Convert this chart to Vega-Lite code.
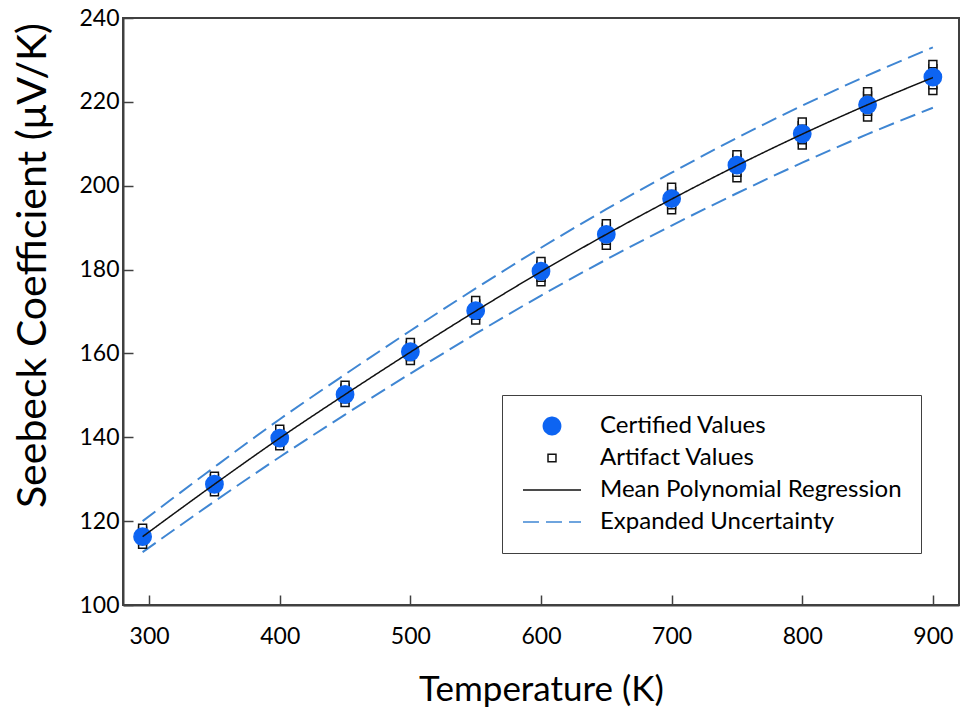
{
  "$schema": "https://vega.github.io/schema/vega-lite/v6.json",
  "width": 836,
  "height": 587,
  "autosize": {"type": "none"},
  "padding": {"left": 123, "top": 18, "right": 2, "bottom": 112},
  "background": "white",
  "config": {
    "font": "Lato",
    "view": {"stroke": "#404040", "strokeWidth": 2},
    "axis": {
      "grid": false,
      "domainColor": "#404040",
      "domainWidth": 2,
      "tickColor": "#404040",
      "tickWidth": 1.5,
      "tickSize": -10,
      "labelFontSize": 23,
      "labelColor": "black",
      "labelFont": "Lato",
      "titleFont": "Lato",
      "titleFontWeight": "normal",
      "titleColor": "black"
    },
    "legend": {
      "strokeColor": "#404040",
      "fillColor": "white",
      "padding": 19,
      "labelFont": "Lato",
      "labelFontSize": 24,
      "labelColor": "black",
      "labelLimit": 500,
      "symbolSize": 300,
      "symbolStrokeWidth": 1.5,
      "rowPadding": 8,
      "labelOffset": 36,
      "symbolOffset": 19
    }
  },
  "datasets": {
    "certified": [
      {"T": 295, "S": 116.3}, {"T": 350, "S": 128.8}, {"T": 400, "S": 139.8},
      {"T": 450, "S": 150.2}, {"T": 500, "S": 160.4}, {"T": 550, "S": 170.2},
      {"T": 600, "S": 179.6}, {"T": 650, "S": 188.4}, {"T": 700, "S": 196.9},
      {"T": 750, "S": 204.9}, {"T": 800, "S": 212.4}, {"T": 850, "S": 219.3},
      {"T": 900, "S": 225.9}
    ],
    "artifacts": [
      {"T": 295, "S": 114.4}, {"T": 295, "S": 115.3}, {"T": 295, "S": 116.1}, {"T": 295, "S": 116.9}, {"T": 295, "S": 117.7}, {"T": 295, "S": 118.4},
      {"T": 350, "S": 126.9}, {"T": 350, "S": 127.8}, {"T": 350, "S": 128.6}, {"T": 350, "S": 129.4}, {"T": 350, "S": 130.2}, {"T": 350, "S": 130.8},
      {"T": 400, "S": 137.9}, {"T": 400, "S": 138.8}, {"T": 400, "S": 139.6}, {"T": 400, "S": 140.4}, {"T": 400, "S": 141.3}, {"T": 400, "S": 142.0},
      {"T": 450, "S": 148.2}, {"T": 450, "S": 149.1}, {"T": 450, "S": 150.0}, {"T": 450, "S": 150.9}, {"T": 450, "S": 151.8}, {"T": 450, "S": 152.5},
      {"T": 500, "S": 158.2}, {"T": 500, "S": 159.2}, {"T": 500, "S": 160.1}, {"T": 500, "S": 161.0}, {"T": 500, "S": 161.9}, {"T": 500, "S": 162.7},
      {"T": 550, "S": 167.9}, {"T": 550, "S": 169.0}, {"T": 550, "S": 169.9}, {"T": 550, "S": 170.9}, {"T": 550, "S": 171.9}, {"T": 550, "S": 172.7},
      {"T": 600, "S": 177.0}, {"T": 600, "S": 178.1}, {"T": 600, "S": 179.1}, {"T": 600, "S": 180.1}, {"T": 600, "S": 181.1}, {"T": 600, "S": 182.0},
      {"T": 650, "S": 185.7}, {"T": 650, "S": 186.9}, {"T": 650, "S": 188.0}, {"T": 650, "S": 189.0}, {"T": 650, "S": 190.1}, {"T": 650, "S": 191.0},
      {"T": 700, "S": 194.2}, {"T": 700, "S": 195.4}, {"T": 700, "S": 196.5}, {"T": 700, "S": 197.6}, {"T": 700, "S": 198.7}, {"T": 700, "S": 199.7},
      {"T": 750, "S": 201.8}, {"T": 750, "S": 203.1}, {"T": 750, "S": 204.4}, {"T": 750, "S": 205.5}, {"T": 750, "S": 206.6}, {"T": 750, "S": 207.5},
      {"T": 800, "S": 209.6}, {"T": 800, "S": 210.9}, {"T": 800, "S": 212.1}, {"T": 800, "S": 213.3}, {"T": 800, "S": 214.4}, {"T": 800, "S": 215.3},
      {"T": 850, "S": 216.3}, {"T": 850, "S": 217.7}, {"T": 850, "S": 219.0}, {"T": 850, "S": 220.3}, {"T": 850, "S": 221.5}, {"T": 850, "S": 222.5},
      {"T": 900, "S": 222.6}, {"T": 900, "S": 224.0}, {"T": 900, "S": 225.5}, {"T": 900, "S": 226.8}, {"T": 900, "S": 228.0}, {"T": 900, "S": 229.0}
    ],
    "curve": [
      {"T": 295, "S": 116.3}, {"T": 350, "S": 128.8}, {"T": 400, "S": 139.8},
      {"T": 450, "S": 150.2}, {"T": 500, "S": 160.3}, {"T": 550, "S": 170.1},
      {"T": 600, "S": 179.5}, {"T": 650, "S": 188.4}, {"T": 700, "S": 196.8},
      {"T": 750, "S": 204.8}, {"T": 800, "S": 212.3}, {"T": 850, "S": 219.3},
      {"T": 900, "S": 225.8}
    ],
    "band": [
      {"T": 295, "S": 120.0, "bound": "upper"}, {"T": 350, "S": 132.9, "bound": "upper"}, {"T": 400, "S": 144.3, "bound": "upper"},
      {"T": 450, "S": 155.0, "bound": "upper"}, {"T": 500, "S": 165.4, "bound": "upper"}, {"T": 550, "S": 175.5, "bound": "upper"},
      {"T": 600, "S": 185.2, "bound": "upper"}, {"T": 650, "S": 194.4, "bound": "upper"}, {"T": 700, "S": 203.1, "bound": "upper"},
      {"T": 750, "S": 211.4, "bound": "upper"}, {"T": 800, "S": 219.1, "bound": "upper"}, {"T": 850, "S": 226.3, "bound": "upper"},
      {"T": 900, "S": 233.0, "bound": "upper"},
      {"T": 295, "S": 112.6, "bound": "lower"}, {"T": 350, "S": 124.7, "bound": "lower"}, {"T": 400, "S": 135.3, "bound": "lower"},
      {"T": 450, "S": 145.4, "bound": "lower"}, {"T": 500, "S": 155.2, "bound": "lower"}, {"T": 550, "S": 164.7, "bound": "lower"},
      {"T": 600, "S": 173.8, "bound": "lower"}, {"T": 650, "S": 182.4, "bound": "lower"}, {"T": 700, "S": 190.5, "bound": "lower"},
      {"T": 750, "S": 198.2, "bound": "lower"}, {"T": 800, "S": 205.5, "bound": "lower"}, {"T": 850, "S": 212.3, "bound": "lower"},
      {"T": 900, "S": 218.6, "bound": "lower"}
    ]
  },
  "encoding": {
    "x": {
      "field": "T", "type": "quantitative",
      "scale": {"domain": [280, 920], "nice": false, "zero": false},
      "axis": {"values": [300, 400, 500, 600, 700, 800, 900], "title": "Temperature (K)", "titleFontSize": 35, "labelPadding": 30, "titleX": 418, "titleY": 84, "titleBaseline": "middle", "titleAnchor": null}
    },
    "y": {
      "field": "S", "type": "quantitative",
      "scale": {"domain": [100, 240], "nice": false, "zero": false},
      "axis": {"values": [100, 120, 140, 160, 180, 200, 220, 240], "title": "Seebeck Coefficient (μV/K)", "titleFontSize": 41, "labelPadding": 14, "titleX": -90, "titleY": 247, "titleBaseline": "middle", "titleAlign": "center", "titleAngle": -90}
    }
  },
  "layer": [
    {
      "data": {"name": "band"},
      "transform": [{"calculate": "'Expanded Uncertainty'", "as": "series"}],
      "mark": {"type": "line", "strokeWidth": 2, "interpolate": "monotone"},
      "encoding": {
        "detail": {"field": "bound"},
        "stroke": {
          "field": "series", "type": "nominal",
          "scale": {"domain": ["Certified Values", "Artifact Values", "Mean Polynomial Regression", "Expanded Uncertainty"], "range": ["#0d64f2", "#111111", "#111111", "#3f86d3"]},
          "legend": {"title": null, "orient": "none", "legendX": 379, "legendY": 377}
        },
        "strokeDash": {
          "field": "series", "type": "nominal",
          "scale": {"domain": ["Certified Values", "Artifact Values", "Mean Polynomial Regression", "Expanded Uncertainty"], "range": [[1, 0], [1, 0], [1, 0], [16, 7]]},
          "legend": {"title": null, "orient": "none", "legendX": 379, "legendY": 377}
        }
      }
    },
    {
      "data": {"name": "artifacts"},
      "transform": [{"calculate": "'Artifact Values'", "as": "series"}],
      "mark": {"type": "point", "size": 300, "strokeWidth": 1.5, "opacity": 1},
      "encoding": {
        "shape": {
          "field": "series", "type": "nominal",
          "scale": {"domain": ["Certified Values", "Artifact Values", "Mean Polynomial Regression", "Expanded Uncertainty"], "range": ["circle", "M-0.46,-0.42H0.46V0.42H-0.46Z", "M-3.35,0H3.35", "M-3.35,0H3.35"]},
          "legend": {"title": null, "orient": "none", "legendX": 379, "legendY": 377}
        },
        "fill": {
          "field": "series", "type": "nominal",
          "scale": {"domain": ["Certified Values", "Artifact Values", "Mean Polynomial Regression", "Expanded Uncertainty"], "range": ["#0d64f2", "white", "transparent", "transparent"]},
          "legend": {"title": null, "orient": "none", "legendX": 379, "legendY": 377}
        },
        "stroke": {
          "field": "series", "type": "nominal",
          "scale": {"domain": ["Certified Values", "Artifact Values", "Mean Polynomial Regression", "Expanded Uncertainty"], "range": ["#0d64f2", "#111111", "#111111", "#3f86d3"]},
          "legend": {"title": null, "orient": "none", "legendX": 379, "legendY": 377}
        }
      }
    },
    {
      "data": {"name": "certified"},
      "transform": [{"calculate": "'Certified Values'", "as": "series"}],
      "mark": {"type": "point", "size": 300, "strokeWidth": 1.5, "opacity": 1},
      "encoding": {
        "shape": {
          "field": "series", "type": "nominal",
          "scale": {"domain": ["Certified Values", "Artifact Values", "Mean Polynomial Regression", "Expanded Uncertainty"], "range": ["circle", "M-0.46,-0.42H0.46V0.42H-0.46Z", "M-3.35,0H3.35", "M-3.35,0H3.35"]},
          "legend": {"title": null, "orient": "none", "legendX": 379, "legendY": 377}
        },
        "fill": {
          "field": "series", "type": "nominal",
          "scale": {"domain": ["Certified Values", "Artifact Values", "Mean Polynomial Regression", "Expanded Uncertainty"], "range": ["#0d64f2", "white", "transparent", "transparent"]},
          "legend": {"title": null, "orient": "none", "legendX": 379, "legendY": 377}
        },
        "stroke": {
          "field": "series", "type": "nominal",
          "scale": {"domain": ["Certified Values", "Artifact Values", "Mean Polynomial Regression", "Expanded Uncertainty"], "range": ["#0d64f2", "#111111", "#111111", "#3f86d3"]},
          "legend": {"title": null, "orient": "none", "legendX": 379, "legendY": 377}
        }
      }
    },
    {
      "data": {"name": "curve"},
      "transform": [{"calculate": "'Mean Polynomial Regression'", "as": "series"}],
      "mark": {"type": "line", "strokeWidth": 1.5, "interpolate": "monotone"},
      "encoding": {
        "stroke": {
          "field": "series", "type": "nominal",
          "scale": {"domain": ["Certified Values", "Artifact Values", "Mean Polynomial Regression", "Expanded Uncertainty"], "range": ["#0d64f2", "#111111", "#111111", "#3f86d3"]},
          "legend": {"title": null, "orient": "none", "legendX": 379, "legendY": 377}
        },
        "strokeDash": {
          "field": "series", "type": "nominal",
          "scale": {"domain": ["Certified Values", "Artifact Values", "Mean Polynomial Regression", "Expanded Uncertainty"], "range": [[1, 0], [1, 0], [1, 0], [16, 7]]},
          "legend": {"title": null, "orient": "none", "legendX": 379, "legendY": 377}
        }
      }
    }
  ]
}
